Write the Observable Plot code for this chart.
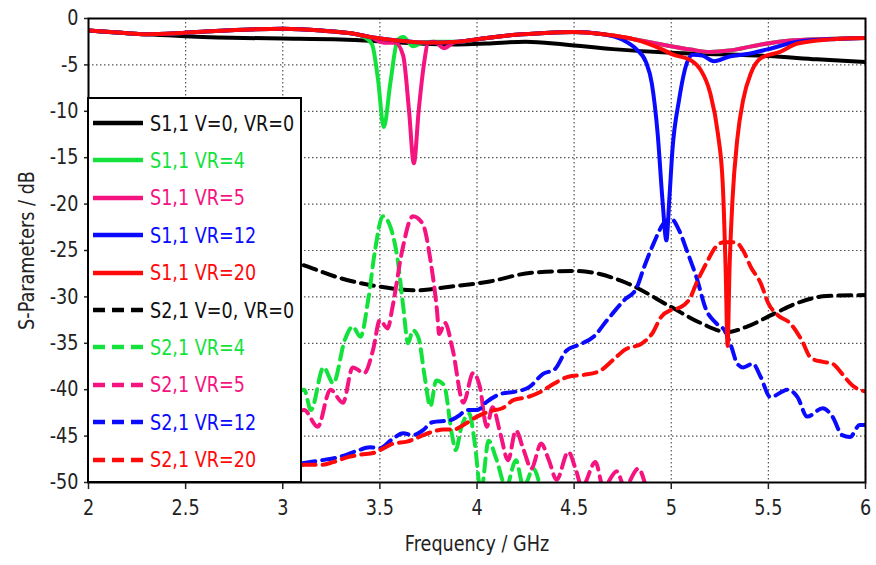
<!DOCTYPE html>
<html>
<head>
<meta charset="utf-8">
<script src="https://cdn.jsdelivr.net/npm/d3@7"></script>
<script src="https://cdn.jsdelivr.net/npm/@observablehq/plot@0.6"></script>
<style>
  body { margin: 0; background: #fff; }
  #wrap { position: relative; width: 876px; height: 565px; font-family: "DejaVu Sans", sans-serif; }
  #legend { position: absolute; left: 87px; top: 97px; width: 211px; height: 382px; background: #fff; border: 2px solid #000; }
  .item { position: absolute; left: 0; height: 30px; display: flex; align-items: center; font-size: 22px; white-space: nowrap; }
  .item svg { margin-left: 4px; margin-right: 7px; flex: none; }
  .item span { display: inline-block; transform: scaleX(0.8); transform-origin: left center; }
</style>
</head>
<body>
<div id="wrap"><div id="chart"></div><div id="legend"></div></div>
<script>
// ---- data (frequency GHz, dB) ----
const xTicks = [2, 2.5, 3, 3.5, 4, 4.5, 5, 5.5, 6];
const yTicks = [0, -5, -10, -15, -20, -25, -30, -35, -40, -45, -50];

const seriesNames = ["S1,1 V=0, VR=0", "S1,1 VR=4", "S1,1 VR=5", "S1,1 VR=12", "S1,1 VR=20",
                     "S2,1 V=0, VR=0", "S2,1 VR=4", "S2,1 VR=5", "S2,1 VR=12", "S2,1 VR=20"];
const seriesColors = ["#000000", "#14e23c", "#f5137f", "#0a0aff", "#ff0a0a",
                      "#000000", "#14e23c", "#f5137f", "#0a0aff", "#ff0a0a"];

const s11_V0 = [[2,-1.3],[2.2,-1.6],[2.5,-1.9],[2.8,-2.1],[3.0,-2.15],[3.3,-2.25],[3.5,-2.45],[3.7,-2.7],[3.9,-2.8],[4.05,-2.7],[4.25,-2.5],[4.45,-2.8],[4.7,-3.3],[5.0,-3.7],[5.25,-3.85],[5.5,-4.05],[5.75,-4.4],[6.0,-4.7]];
const s11_VR4 = [[2,-1.3],[2.15,-1.5],[2.3,-1.7],[2.45,-1.6],[2.6,-1.4],[2.8,-1.2],[3.0,-1.1],[3.2,-1.3],[3.35,-1.6],[3.42,-2.0],[3.46,-2.8],[3.49,-6.5],[3.52,-11.7],[3.555,-6.8],[3.59,-2.4],[3.62,-2.0],[3.67,-3.0],[3.72,-2.6],[3.77,-2.5],[3.9,-2.5],[4.05,-2.1],[4.2,-1.75],[4.35,-1.55],[4.5,-1.45],[4.65,-1.7],[4.8,-2.2],[4.95,-2.8],[5.1,-3.35],[5.2,-3.6],[5.3,-3.45],[5.45,-2.85],[5.6,-2.4],[5.8,-2.2],[6.0,-2.1]];
const s11_VR5 = [[2,-1.3],[2.15,-1.5],[2.3,-1.7],[2.45,-1.6],[2.6,-1.4],[2.8,-1.2],[3.0,-1.1],[3.2,-1.3],[3.35,-1.6],[3.45,-2.0],[3.52,-2.6],[3.58,-2.6],[3.62,-4.0],[3.65,-9.9],[3.675,-15.6],[3.70,-9.9],[3.725,-5.2],[3.75,-2.6],[3.78,-2.5],[3.83,-3.2],[3.88,-2.6],[3.95,-2.4],[4.05,-2.1],[4.2,-1.75],[4.35,-1.55],[4.5,-1.45],[4.65,-1.7],[4.8,-2.2],[4.95,-2.8],[5.1,-3.35],[5.2,-3.6],[5.3,-3.45],[5.45,-2.85],[5.6,-2.4],[5.8,-2.2],[6.0,-2.1]];
const s11_VR12 = [[2,-1.3],[2.15,-1.5],[2.3,-1.7],[2.45,-1.6],[2.6,-1.4],[2.8,-1.2],[3.0,-1.1],[3.2,-1.3],[3.35,-1.6],[3.45,-2.0],[3.6,-2.4],[3.75,-2.6],[3.9,-2.5],[4.05,-2.1],[4.2,-1.75],[4.35,-1.55],[4.5,-1.45],[4.65,-1.7],[4.75,-2.3],[4.82,-3.3],[4.87,-4.7],[4.9,-7.0],[4.93,-12.4],[4.955,-19.6],[4.975,-23.9],[4.99,-19.5],[5.006,-14.2],[5.04,-8.8],[5.08,-4.8],[5.11,-3.9],[5.16,-4.0],[5.22,-4.6],[5.3,-4.1],[5.4,-3.8],[5.5,-3.3],[5.65,-2.5],[5.85,-2.2],[6.0,-2.1]];
const s11_VR20 = [[2,-1.3],[2.15,-1.5],[2.3,-1.7],[2.45,-1.6],[2.6,-1.4],[2.8,-1.2],[3.0,-1.1],[3.2,-1.3],[3.35,-1.6],[3.45,-2.0],[3.6,-2.4],[3.75,-2.6],[3.9,-2.5],[4.05,-2.1],[4.2,-1.75],[4.35,-1.55],[4.5,-1.45],[4.65,-1.7],[4.8,-2.2],[4.88,-2.7],[4.95,-3.3],[5.01,-3.9],[5.1,-4.5],[5.15,-5.5],[5.2,-8.0],[5.24,-12.4],[5.265,-17.8],[5.28,-27],[5.29,-35.3],[5.3,-27],[5.315,-19.6],[5.34,-13],[5.37,-8.8],[5.41,-5.9],[5.46,-4.3],[5.56,-3.6],[5.65,-2.7],[5.82,-2.25],[6.0,-2.1]];

const s21_V0 = [[2.0,-22],[2.5,-23.5],[3.0,-25.8],[3.11,-26.6],[3.3,-28],[3.5,-28.9],[3.69,-29.3],[3.86,-28.9],[4.05,-28.4],[4.28,-27.4],[4.5,-27.2],[4.6,-27.4],[4.77,-28.5],[5.0,-31.1],[5.15,-32.8],[5.29,-33.8],[5.39,-33.2],[5.53,-31.8],[5.67,-30.5],[5.8,-29.9],[6.0,-29.8]];
const s21_VR4 = [[3.0,-42],[3.11,-40],[3.145,-42.2],[3.21,-37.6],[3.26,-39.3],[3.32,-34.6],[3.36,-33.2],[3.4,-34.3],[3.44,-30.3],[3.475,-25],[3.515,-21.3],[3.555,-22.5],[3.59,-25.8],[3.62,-31],[3.645,-35],[3.67,-33.6],[3.7,-34.5],[3.73,-38.5],[3.76,-41.8],[3.79,-39],[3.83,-39.5],[3.87,-44.7],[3.89,-46.5],[3.92,-44],[3.96,-42.6],[3.99,-46],[4.02,-51],[4.06,-45.5],[4.1,-47.5],[4.15,-50.5],[4.2,-47.6],[4.24,-50.5],[4.29,-48.5],[4.33,-51]];
const s21_VR5 = [[3.0,-44],[3.11,-42.2],[3.18,-44],[3.245,-40],[3.31,-41.4],[3.36,-37.6],[3.42,-38.2],[3.465,-35.7],[3.5,-32.5],[3.54,-33.4],[3.565,-31.1],[3.615,-25],[3.67,-21.3],[3.72,-22.1],[3.76,-26],[3.795,-31.7],[3.805,-34],[3.835,-32.8],[3.875,-35.7],[3.93,-41.4],[3.98,-38.2],[4.015,-39.7],[4.05,-44],[4.08,-41.9],[4.12,-44.7],[4.16,-47.6],[4.2,-44.4],[4.24,-46.5],[4.28,-48.5],[4.33,-45.8],[4.37,-47.6],[4.41,-49.7],[4.47,-46.7],[4.51,-48.7],[4.54,-50.5],[4.61,-47.8],[4.65,-50.5],[4.72,-48.8],[4.76,-50.5],[4.83,-48.5],[4.87,-50.5]];
const s21_VR12 = [[3.0,-48.3],[3.11,-47.9],[3.2,-47.6],[3.3,-47.2],[3.38,-46.6],[3.45,-46.2],[3.5,-46.3],[3.56,-45.4],[3.62,-44.7],[3.67,-44.9],[3.72,-44.4],[3.77,-43.5],[3.86,-43.3],[3.9,-42.9],[3.95,-42.2],[4.0,-42.2],[4.05,-41.3],[4.13,-40.4],[4.2,-40.2],[4.27,-39.7],[4.34,-38.3],[4.4,-37.8],[4.46,-35.8],[4.52,-35.2],[4.6,-34.3],[4.67,-32.5],[4.76,-30.3],[4.82,-29.1],[4.86,-26.8],[4.91,-24.2],[4.96,-22.1],[5.0,-21.6],[5.04,-22.8],[5.08,-25],[5.13,-27.9],[5.18,-31.4],[5.23,-32.8],[5.28,-33.8],[5.31,-35.4],[5.34,-37.2],[5.37,-37.6],[5.42,-37.2],[5.46,-38.6],[5.51,-40.8],[5.6,-40],[5.65,-40.8],[5.7,-42.9],[5.78,-42],[5.83,-42.9],[5.88,-44.9],[5.92,-45.1],[5.97,-43.8],[6.0,-43.8]];
const s21_VR20 = [[3.0,-48.3],[3.11,-48.1],[3.2,-48.1],[3.26,-47.8],[3.33,-47.3],[3.4,-47],[3.47,-46.8],[3.52,-46.3],[3.57,-45.8],[3.64,-45.6],[3.69,-45.2],[3.76,-44.6],[3.83,-44.3],[3.88,-44.3],[3.93,-43.8],[4.0,-42.9],[4.07,-42.3],[4.13,-42],[4.19,-41.1],[4.26,-40.8],[4.33,-40.2],[4.4,-39.3],[4.47,-38.6],[4.55,-38.4],[4.63,-38],[4.7,-36.8],[4.76,-35.7],[4.85,-35],[4.9,-34],[4.95,-32.1],[5.0,-31.4],[5.05,-31.1],[5.1,-30],[5.13,-28.5],[5.18,-26.4],[5.23,-24.6],[5.27,-24.1],[5.33,-24.1],[5.37,-25],[5.41,-26.8],[5.46,-28.5],[5.5,-30.7],[5.55,-32],[5.61,-32.8],[5.67,-34.6],[5.72,-36.6],[5.78,-37],[5.83,-37.2],[5.88,-38.3],[5.93,-39.5],[6.0,-40.2]];

const s11Data = [s11_V0, s11_VR4, s11_VR5, s11_VR12, s11_VR20];
const s21Data = [s21_V0, s21_VR4, s21_VR5, s21_VR12, s21_VR20];

function rows(list, offset) {
  return list.flatMap((pts, i) => pts.map(([f, db]) => ({f, db, name: seriesNames[i + offset]})));
}
const s11Rows = rows(s11Data, 0);
const s21Rows = rows(s21Data, 5);

const chart = Plot.plot({
  width: 876,
  height: 565,
  marginLeft: 88,
  marginRight: 11,
  marginTop: 18,
  marginBottom: 83,
  style: {fontFamily: '"DejaVu Sans", sans-serif', fontSize: "21px", color: "#222", background: "#fff"},
  x: {domain: [2, 6], label: null},
  y: {domain: [-50, 0], label: null},
  color: {domain: seriesNames, range: seriesColors},
  marks: [
    Plot.gridX(xTicks, {stroke: "#555", strokeOpacity: 1, strokeDasharray: "1.5,2.5", strokeWidth: 1.2}),
    Plot.gridY(yTicks, {stroke: "#555", strokeOpacity: 1, strokeDasharray: "1.5,2.5", strokeWidth: 1.2}),
    Plot.line(s21Rows, {x: "f", y: "db", z: "name", stroke: "name", strokeWidth: 4, strokeDasharray: "13,7", curve: "monotone-x", clip: true}),
    Plot.line(s11Rows, {x: "f", y: "db", z: "name", stroke: "name", strokeWidth: 4, curve: "monotone-x", clip: true}),
    Plot.frame({stroke: "#000", strokeWidth: 2}),
    Plot.axisX({ticks: xTicks, tickSize: 7, tickPadding: 11, tickFormat: d => String(d), fontSize: 21, strokeWidth: 1.5, label: null}),
    Plot.axisY({ticks: yTicks, tickSize: 4, tickPadding: 6, tickFormat: d => String(d), fontSize: 21, strokeWidth: 1.5, label: null}),
    Plot.text(["Frequency / GHz"], {frameAnchor: "bottom", dy: 68, fontSize: 21, fill: "#222", textAnchor: "middle"}),
    Plot.text(["S-Parameters / dB"], {frameAnchor: "left", dx: -61, rotate: -90, fontSize: 21, fill: "#222", textAnchor: "middle"})
  ]
});

// narrow the glyphs horizontally (the reference uses a condensed face)
chart.querySelectorAll("text").forEach(t => {
  const s = 0.84;
  const X = +(t.getAttribute("x") || 0);
  const old = t.getAttribute("transform") || "";
  t.setAttribute("transform", `${old} translate(${X * (1 - s)},0) scale(${s},1)`);
});
document.getElementById("chart").append(chart);

// legend (HTML overlay)
const legend = document.getElementById("legend");
seriesNames.forEach((name, i) => {
  const item = document.createElement("div");
  item.className = "item";
  item.style.top = (9 + i * 37.4) + "px";
  const dashed = i >= 5;
  item.innerHTML = `<svg width="50" height="8"><line x1="0" y1="4" x2="50" y2="4" stroke="${seriesColors[i]}" stroke-width="4.5" ${dashed ? 'stroke-dasharray="12,7"' : ''}/></svg>`;
  const span = document.createElement("span");
  span.textContent = name;
  span.style.color = i === 0 || i === 5 ? "#111" : seriesColors[i];
  item.append(span);
  legend.append(item);
});
</script>
</body>
</html>
